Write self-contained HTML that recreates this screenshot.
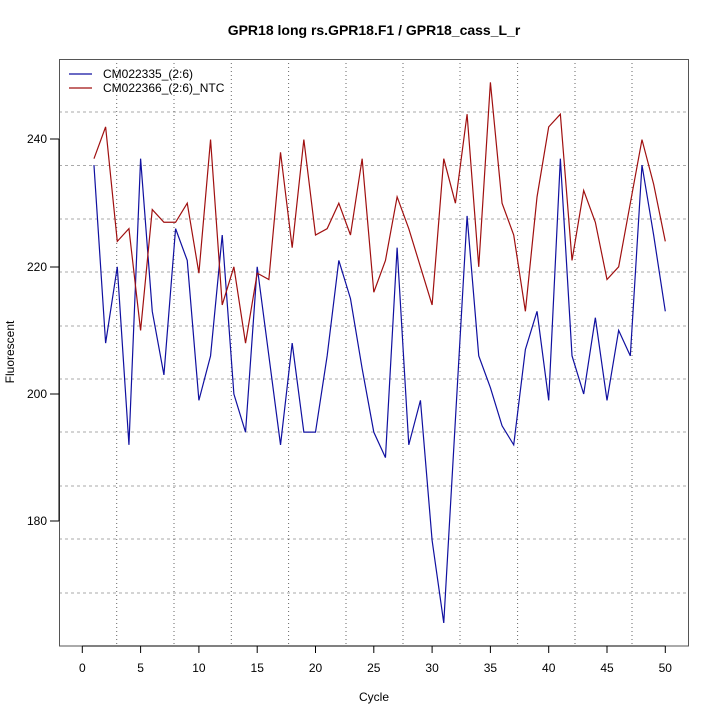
<!DOCTYPE html>
<html><head><style>body{margin:0;background:#fff}svg{display:block}</style></head><body>
<svg width="720" height="720" viewBox="0 0 720 720" xmlns="http://www.w3.org/2000/svg" font-family="Liberation Sans, sans-serif">
<rect width="720" height="720" fill="#fff"/>
<g stroke="#aaa" stroke-width="1" stroke-dasharray="3,3">
<line x1="59" x2="689" y1="112" y2="112"/><line x1="59" x2="689" y1="165.5" y2="165.5"/><line x1="59" x2="689" y1="219" y2="219"/><line x1="59" x2="689" y1="272" y2="272"/><line x1="59" x2="689" y1="326" y2="326"/><line x1="59" x2="689" y1="379" y2="379"/><line x1="59" x2="689" y1="432" y2="432"/><line x1="59" x2="689" y1="486" y2="486"/><line x1="59" x2="689" y1="539" y2="539"/><line x1="59" x2="689" y1="593" y2="593"/>
</g>
<g stroke="#666" stroke-width="1" stroke-dasharray="1,3">
<line y1="59" y2="646" x1="116.7" x2="116.7"/><line y1="59" y2="646" x1="174" x2="174"/><line y1="59" y2="646" x1="231.3" x2="231.3"/><line y1="59" y2="646" x1="288.6" x2="288.6"/><line y1="59" y2="646" x1="346" x2="346"/><line y1="59" y2="646" x1="403" x2="403"/><line y1="59" y2="646" x1="460" x2="460"/><line y1="59" y2="646" x1="517.6" x2="517.6"/><line y1="59" y2="646" x1="575" x2="575"/><line y1="59" y2="646" x1="632" x2="632"/>
</g>
<g transform="matrix(11.66 0 0 -6.36 82.3 1666)" fill="none" stroke-width="1.2">
<polyline vector-effect="non-scaling-stroke" stroke="#1010a0" points="1,236 2,208 3,220 4,192 5,237 6,213 7,203 8,226 9,221 10,199 11,206 12,225 13,200 14,194 15,220 16,206 17,192 18,208 19,194 20,194 21,206 22,221 23,215 24,204 25,194 26,190 27,223 28,192 29,199 30,177 31,164 32,196 33,228 34,206 35,201 36,195 37,192 38,207 39,213 40,199 41,237 42,206 43,200 44,212 45,199 46,210 47,206 48,236 49,225 50,213"/>
<polyline vector-effect="non-scaling-stroke" stroke="#a01010" points="1,237 2,242 3,224 4,226 5,210 6,229 7,227 8,227 9,230 10,219 11,240 12,214 13,220 14,208 15,219 16,218 17,238 18,223 19,240 20,225 21,226 22,230 23,225 24,237 25,216 26,221 27,231 28,226 29,220 30,214 31,237 32,230 33,244 34,220 35,249 36,230 37,225 38,213 39,231 40,242 41,244 42,221 43,232 44,227 45,218 46,220 47,230 48,240 49,233 50,224"/>
</g>
<rect x="59.5" y="59.5" width="629" height="586.5" fill="none" stroke="#555" stroke-width="1"/>
<g stroke="#000" stroke-width="1">
<line x1="82.3" x2="665.3" y1="646" y2="646"/>
<line x1="82.3" x2="82.3" y1="646" y2="653"/><line x1="140.6" x2="140.6" y1="646" y2="653"/><line x1="198.9" x2="198.9" y1="646" y2="653"/><line x1="257.2" x2="257.2" y1="646" y2="653"/><line x1="315.5" x2="315.5" y1="646" y2="653"/><line x1="373.8" x2="373.8" y1="646" y2="653"/><line x1="432.1" x2="432.1" y1="646" y2="653"/><line x1="490.4" x2="490.4" y1="646" y2="653"/><line x1="548.7" x2="548.7" y1="646" y2="653"/><line x1="607" x2="607" y1="646" y2="653"/><line x1="665.3" x2="665.3" y1="646" y2="653"/>
<line x1="59" x2="59" y1="139" y2="521"/>
<line x1="50" x2="59" y1="139" y2="139"/><line x1="50" x2="59" y1="267" y2="267"/><line x1="50" x2="59" y1="394" y2="394"/><line x1="50" x2="59" y1="521" y2="521"/>
</g>
<g font-size="12" text-anchor="middle" fill="#000">
<text x="82.3" y="672">0</text><text x="140.6" y="672">5</text><text x="198.9" y="672">10</text><text x="257.2" y="672">15</text><text x="315.5" y="672">20</text><text x="373.8" y="672">25</text><text x="432.1" y="672">30</text><text x="490.4" y="672">35</text><text x="548.7" y="672">40</text><text x="607" y="672">45</text><text x="665.3" y="672">50</text>
<text x="374" y="701">Cycle</text>
<text transform="translate(14,352) rotate(-90)">Fluorescent</text>
<text x="374" y="35" font-size="14" font-weight="bold">GPR18 long rs.GPR18.F1 / GPR18_cass_L_r</text>
</g>
<g font-size="12" text-anchor="end" fill="#000">
<text x="47" y="143">240</text><text x="47" y="271">220</text><text x="47" y="398">200</text><text x="47" y="525">180</text>
</g>
<line x1="69" x2="92" y1="74" y2="74" stroke="#1010a0" stroke-width="1.2"/>
<line x1="69" x2="92" y1="88" y2="88" stroke="#a01010" stroke-width="1.2"/>
<g font-size="12" fill="#000"><text x="103" y="78">CM022335_(2:6)</text><text x="103" y="92">CM022366_(2:6)_NTC</text></g>
</svg>
</body></html>
